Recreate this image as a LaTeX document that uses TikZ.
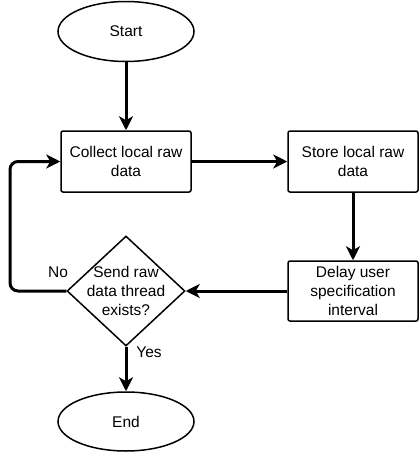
\documentclass[tikz,border=0pt]{standalone}
\usepackage{fontspec}
\setmainfont{Liberation Sans}
\usetikzlibrary{arrows.meta,positioning,shapes.geometric}

\begin{document}
\begin{tikzpicture}[x=1pt,y=-1pt,
		terminal/.style={ellipse,draw,line width=1.5pt,minimum width=136pt,minimum height=60pt,inner sep=0pt},
		process/.style={rectangle,draw,rounded corners=2pt,line width=1.5pt,minimum width=130pt,minimum height=61pt,align=center,inner sep=0pt},
		decision/.style={diamond,draw,line width=1.5pt,minimum width=118pt,minimum height=110pt,aspect=1.07,align=center,inner sep=-14pt},
		flow/.style={-{Stealth[length=14pt,width=14pt,inset=4pt]},line width=3pt},
		lbl/.style={font=\fontsize{15.5}{19}\selectfont}]
			\useasboundingbox (0,0) rectangle (420,453);
			\node[terminal,lbl] (start) at (126,31.5) {Start};
			\node[process,lbl] (collect) at (126,161.5) {Collect local raw\\data};
			\node[process,lbl] (store) at (353,161.5) {Store local raw\\data};
			\node[process,lbl,minimum height=60pt] (delay) at (353,291) {Delay user\\specification\\interval};
			\node[decision,lbl] (check) at (126,291) {Send raw\\data thread\\exists?};
			\node[terminal,lbl,minimum height=59pt] (end) at (126,421.5) {End};
			\coordinate (loop) at (10,291);

			\draw[flow] (start) -- (collect);
			\draw[flow] (collect) -- (store);
			\draw[flow] (store) -- (delay);
			\draw[flow] (delay) -- (check);
			\draw[flow,rounded corners=8pt] (check.west) -- (loop) |- (collect.west);
			\draw[flow] (check) -- (end);

			\node[lbl] (no) at (58,272) {No};
			\node[lbl] (yes) at (149,352) {Yes};
		\end{tikzpicture}
\end{document}
